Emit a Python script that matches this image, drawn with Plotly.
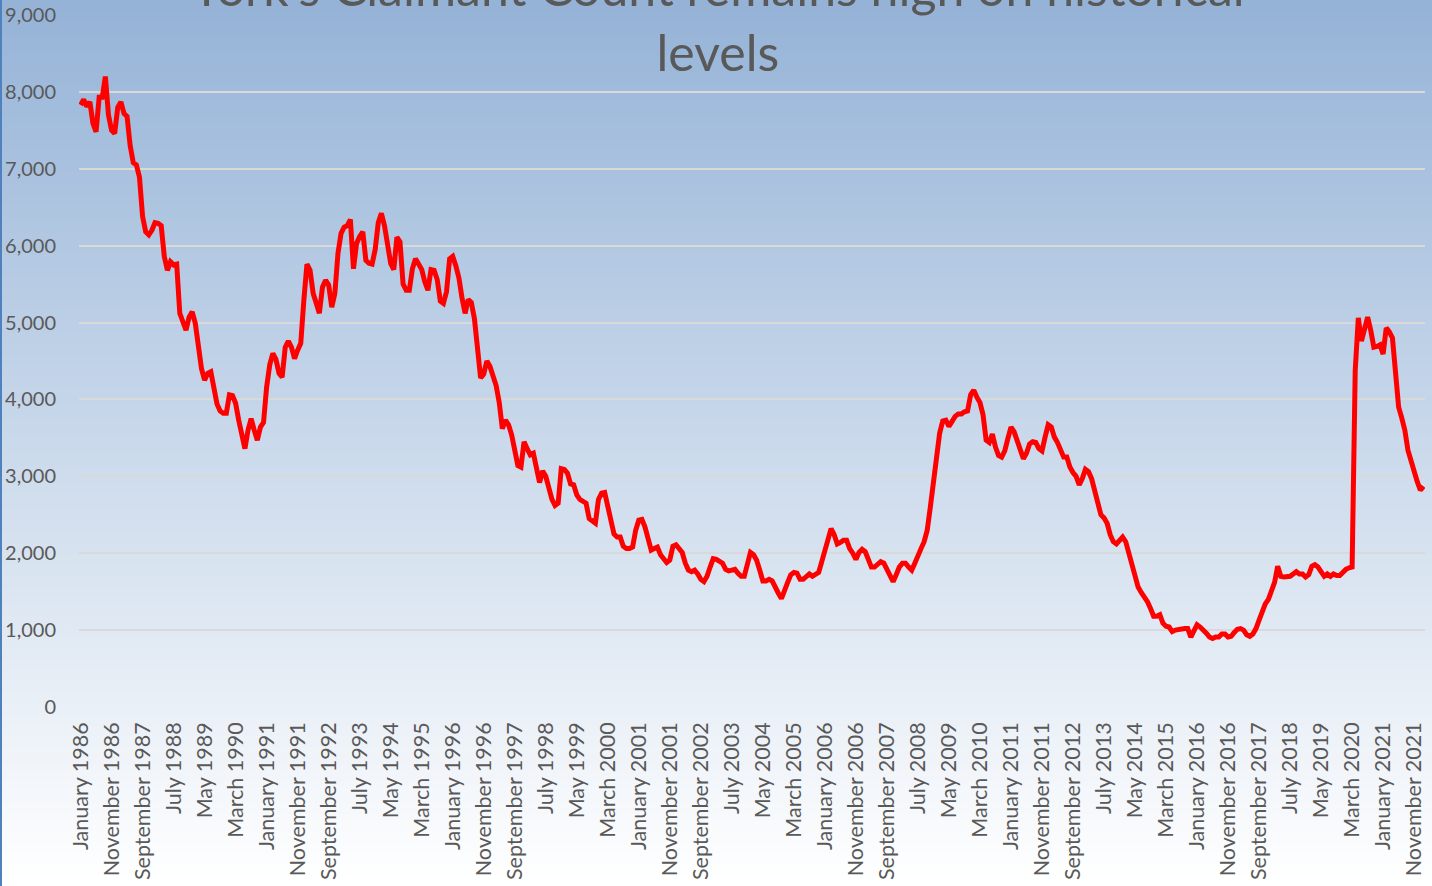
import plotly.graph_objects as go

months = ['January', 'February', 'March', 'April', 'May', 'June', 'July',
          'August', 'September', 'October', 'November', 'December']
years = list(range(1986, 2023))

# monthly claimant count, York, January 1986 - February 2022
counts_1986_1990 = [
    7830, 7900, 7810, 7870, 7590, 7480, 7930, 7930, 8200, 7700, 7500, 7460,
    7800, 7870, 7720, 7680, 7300, 7080, 7050, 6890, 6380, 6180, 6140, 6200,
    6300, 6290, 6260, 5860, 5680, 5790, 5750, 5760, 5120, 4990, 4900, 5070,
    5140, 4990, 4680, 4400, 4250, 4340, 4360, 4120, 3940, 3850, 3820, 3820,
    4060, 4050, 3950, 3730, 3500, 3360, 3600, 3750, 3600, 3470, 3640, 3700,
]
counts_1991_1995 = [
    4160, 4450, 4600, 4520, 4340, 4290, 4680, 4760, 4680, 4530, 4640, 4730,
    5290, 5760, 5680, 5380, 5250, 5120, 5460, 5550, 5490, 5200, 5380, 5900,
    6160, 6240, 6260, 6340, 5700, 6030, 6120, 6180, 5810, 5770, 5760, 5950,
    6300, 6420, 6260, 6030, 5770, 5690, 6110, 6050, 5500, 5420, 5420, 5700,
    5830, 5760, 5690, 5530, 5420, 5690, 5680, 5560, 5280, 5250, 5400, 5830,
]
counts_1996_2000 = [
    5860, 5740, 5580, 5320, 5120, 5300, 5260, 5050, 4600, 4280, 4330, 4500,
    4430, 4320, 4180, 3960, 3620, 3730, 3670, 3540, 3310, 3140, 3120, 3450,
    3360, 3280, 3300, 3120, 2920, 3070, 3000, 2850, 2700, 2620, 2650, 3100,
    3090, 3040, 2900, 2890, 2760, 2700, 2680, 2650, 2450, 2410, 2390, 2700,
    2780, 2790, 2600, 2370, 2250, 2210, 2210, 2090, 2060, 2060, 2080, 2300,
]
counts_2001_2005 = [
    2430, 2440, 2340, 2190, 2040, 2060, 2080, 1980, 1920, 1880, 1910, 2090,
    2110, 2060, 2010, 1870, 1780, 1760, 1780, 1730, 1660, 1630, 1700, 1820,
    1930, 1920, 1890, 1870, 1790, 1770, 1780, 1790, 1740, 1700, 1700, 1890,
    2010, 1980, 1910, 1780, 1640, 1640, 1660, 1640, 1540, 1480, 1410, 1540,
    1620, 1720, 1750, 1740, 1660, 1660, 1700, 1730, 1700, 1720, 1750, 1890,
]
counts_2006_2010 = [
    2040, 2210, 2320, 2240, 2120, 2140, 2170, 2170, 2060, 2000, 1920, 2010,
    2050, 2020, 1930, 1820, 1820, 1860, 1890, 1870, 1780, 1720, 1630, 1720,
    1820, 1870, 1870, 1820, 1780, 1870, 1980, 2060, 2150, 2300, 2600, 2950,
    3320, 3560, 3720, 3730, 3650, 3720, 3780, 3810, 3810, 3840, 3850, 4060,
    4120, 4030, 3960, 3800, 3470, 3440, 3550, 3380, 3270, 3250, 3330, 3490,
]
counts_2011_2015 = [
    3640, 3580, 3450, 3320, 3230, 3300, 3420, 3450, 3440, 3360, 3330, 3510,
    3670, 3640, 3510, 3440, 3360, 3250, 3250, 3120, 3050, 3000, 2890, 2970,
    3090, 3060, 2970, 2800, 2630, 2500, 2460, 2390, 2240, 2150, 2120, 2170,
    2210, 2150, 2000, 1820, 1660, 1560, 1490, 1430, 1370, 1280, 1180, 1180,
    1200, 1090, 1050, 1040, 980, 1000, 1010, 1010, 1020, 1020, 910, 990,
]
counts_2016_2020 = [
    1070, 1040, 1010, 960, 910, 890, 910, 910, 950, 950, 910, 920,
    970, 1010, 1020, 1000, 940, 920, 950, 1020, 1130, 1240, 1340, 1400,
    1520, 1620, 1830, 1700, 1690, 1690, 1700, 1730, 1760, 1730, 1730, 1690,
    1720, 1830, 1850, 1820, 1760, 1700, 1730, 1700, 1730, 1710, 1710, 1760,
    1790, 1810, 1820, 4380, 5060, 4760, 4900, 5070, 4900, 4680, 4690, 4710,
]
counts_2021_2022 = [
    4590, 4930, 4880, 4800, 4350, 3900, 3760, 3600, 3340, 3190, 3060, 2930,
    2820, 2870,
]

counts = (counts_1986_1990 + counts_1991_1995 + counts_1996_2000 + counts_2001_2005
          + counts_2006_2010 + counts_2011_2015 + counts_2016_2020 + counts_2021_2022)
labels = [f'{m} {y}' for y in years for m in months][:len(counts)]
tick_labels = labels[::10]

title_text = "York's Claimant Count remains high on historical<br>levels"
font_name = 'Lato, Open Sans, sans-serif'
grey = '#595959'

W, H = 1432, 886
ML, MR, MT, MB = 79, 7, 15, 179
pw, ph = W - ML - MR, H - MT - MB


def px_x(px):
    return (px - ML) / pw


def px_y(py):
    return (H - MB - py) / ph


# vertical blue-to-white gradient behind the whole chart
shapes = []
top_rgb, bottom_rgb = (149, 179, 215), (255, 255, 255)
n_bands = 160
for k in range(n_bands):
    t = k / (n_bands - 1)
    c = tuple(round(a + (b - a) * t) for a, b in zip(top_rgb, bottom_rgb))
    y0 = H * k / n_bands
    y1 = H * (k + 1) / n_bands + 1
    shapes.append(dict(
        type='rect', xref='paper', yref='paper', layer='below',
        x0=px_x(0), x1=px_x(W), y0=px_y(y1), y1=px_y(y0),
        fillcolor=f'rgb{c}', line_width=0,
    ))
shapes.append(dict(type='line', xref='paper', yref='paper', layer='above',
                   x0=px_x(1), x1=px_x(1), y0=px_y(0), y1=px_y(H),
                   line=dict(color='#4f81bd', width=2)))

fig = go.Figure()
fig.add_trace(go.Scatter(
    x=labels, y=counts, mode='lines',
    line=dict(color='#ff0000', width=5),
    showlegend=False, hoverinfo='x+y',
))

fig.update_layout(
    width=W, height=H,
    margin=dict(l=ML, r=MR, t=MT, b=MB, autoexpand=False),
    paper_bgcolor='white',
    plot_bgcolor='rgba(0,0,0,0)',
    font=dict(family=font_name, color=grey),
    shapes=shapes,
    annotations=[dict(
        text=title_text, xref='paper', yref='paper',
        x=px_x(718), y=px_y(19), xanchor='center', yanchor='middle',
        showarrow=False, font=dict(size=50, color=grey, family=font_name),
    )],
)
fig.update_xaxes(
    type='category', range=[-0.5, len(counts) - 0.5],
    tickmode='array', tickvals=tick_labels, ticktext=tick_labels,
    tickangle=-90, tickfont=dict(size=21.5, color=grey),
    showgrid=False, zeroline=False, showline=False, ticks='',
    ticklabelstandoff=10, automargin=False,
)
fig.update_yaxes(
    range=[0, 9000], dtick=1000, tickformat=',',
    tickfont=dict(size=20, color=grey),
    showgrid=True, gridcolor='#d9d9d9', gridwidth=1.5,
    zeroline=False, showline=False, ticks='',
    ticklabelstandoff=22, automargin=False,
)

fig.write_html('out.html',
               config={'displayModeBar': False},
               post_script="document.body.style.margin='0px';"
                           "document.body.style.padding='0px';"
                           "document.body.style.overflow='hidden';")
